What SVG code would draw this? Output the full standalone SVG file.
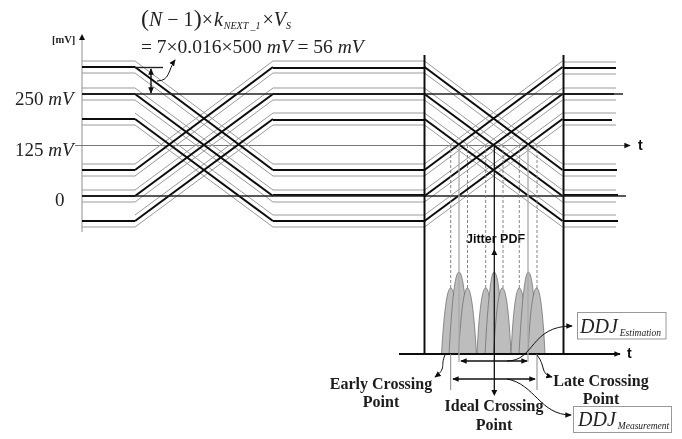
<svg xmlns="http://www.w3.org/2000/svg" width="682" height="439" viewBox="0 0 682 439">
<style>
.k{stroke:#111;stroke-width:2;fill:none}
.m{stroke:#222;stroke-width:1.4;fill:none}
.g{stroke:#9a9a9a;stroke-width:1;fill:none}
.d{stroke:#777;stroke-width:.9;stroke-dasharray:3 2;fill:none}
.v{stroke:#aaa;stroke-width:1.3;fill:none}
.a{stroke:#111;stroke-width:1.4;fill:none}
.c{stroke:#111;stroke-width:1;fill:none}
.s{font-family:"Liberation Serif",serif;fill:#222}
.i{font-style:italic}
.b{font-family:"Liberation Serif",serif;font-weight:bold;font-size:16px;fill:#1a1a1a;text-anchor:middle}
.h{font-family:"Liberation Sans",sans-serif;font-weight:bold;fill:#111}
.p{fill:#bdbdbd;stroke:#666;stroke-width:.7}
.box{fill:#fff;stroke:#999;stroke-width:1}
</style>
<defs>
<filter id="soft" x="0" y="0" width="100%" height="100%"><feGaussianBlur stdDeviation="0.35"/></filter>
<marker id="ah" viewBox="0 0 8 8" refX="7" refY="4" markerWidth="6.500" markerHeight="6.500" orient="auto-start-reverse" markerUnits="userSpaceOnUse"><path d="M0 0.5L8 4L0 7.5Z" fill="#111"/></marker>
<g id="eye">
<path class="g" d="M135 61L273 164M135 73L273 176M135 88L273 190M135 100L273 202M135 113L273 215M135 125L273 227M135 164L273 61M135 176L273 73M135 190L273 88M135 202L273 100M135 215L273 113M135 227L273 125"/>
<path class="k" d="M135 67L273 170M135 94L273 196M135 119L273 221M135 170L273 67M135 196L273 94M135 221L273 119"/>
</g>
</defs>
<g filter="url(#soft)">
<g id="axes">
<path class="v" d="M82 232V40"/>
<path d="M82 34L85 40H79Z" fill="#111"/>
<text class="s" x="52" y="43" font-size="10.500" font-weight="bold">[mV]</text>
<path d="M75 145.500H630" stroke="#777" stroke-width="1" fill="none" marker-end="url(#ah)"/>
<text class="h" x="638" y="150" font-size="14">t</text>
</g>
<g id="waveforms">
<path class="g" d="M82 61H135M82 73H135M82 88H135M82 100H135M82 125H135M82 164H135M82 176H135M82 190H135M82 202H135M82 227H135"/>
<path class="g" d="M273 61H424M273 73H424M273 88H424M273 100H424M273 113H424M273 125H424M273 164H424M273 176H424M273 190H424M273 202H424M273 215H424M273 227H424"/>
<path class="g" d="M563 62H616M563 74H616M563 88H616M563 100H616M563 113H616M563 125H616M563 164H616M563 176H616M563 190H616M563 202H616M563 215H616M563 227H616"/>
<use href="#eye"/>
<use href="#eye" transform="translate(289.500 0)"/>
<path class="k" d="M82 67H135M82 94H135M82 119H135M82 170H135M82 196H135M82 221H135"/>
<path class="k" d="M273 68H424M273 94H424M273 120H424M273 170H424M273 195H424M273 221H424"/>
<path class="k" d="M563 68H616M563 94H614M563 120H612M563 170H617M563 195H618M563 221H618"/>
<path class="m" d="M82 94H623M82 196H626"/>
<path class="k" d="M424.500 55V354M563.500 55V354"/>
</g>
<g id="jitter-pdf">
<path class="p" d="M441.500 354C444 312 447 288 450.700 288C454.500 288 457 312 460 354Z"/>
<path class="p" d="M449 354C452 300 455 272 459 272C463 272 466 300 469 354Z"/>
<path class="p" d="M458.500 354C461 312 464 288 467.300 288C471 288 474 312 476.500 354Z"/>
<path class="p" d="M477 354C479 312 482 288 485.700 288C489.500 288 492 312 495 354Z"/>
<path class="p" d="M485 354C488 300 491 272 494 272C498 272 501 300 503 354Z"/>
<path class="p" d="M493.500 354C496 312 499 288 502.300 288C506 288 509 312 511 354Z"/>
<path class="p" d="M511 354C513 312 516 288 519.300 288C523 288 526 312 528 354Z"/>
<path class="p" d="M519 354C522 300 525 272 528.300 272C532 272 535 300 537 354Z"/>
<path class="p" d="M528 354C530 312 533 288 536.700 288C540 288 543 312 545 354Z"/>
<text class="h" x="466" y="243" font-size="12.500">Jitter PDF</text>
<path d="M399 354H620" stroke="#111" stroke-width="2" fill="none" marker-end="url(#ah)"/>
<text class="h" x="627" y="358" font-size="14">t</text>
</g>
<g id="crossing-guides">
<path class="d" d="M450.700 145V290M467.500 145V290M485.700 145V290M503 145V290M519.300 145V290M537 145V290"/>
<path class="v" d="M459 145V362M528 145V362"/>
<path d="M450.700 354V390M537 354V390" stroke="#888" stroke-width="1" fill="none"/>
<path d="M494.300 145V394" stroke="#111" stroke-width="1.300" fill="none"/>
<path d="M494.300 249L497.300 255H491.300ZM494.300 396L491.300 390H497.300Z" fill="#111"/>
</g>
<g id="connectors">
<path class="m" d="M135 67.500H163"/>
<path class="a" d="M151 69V93" marker-start="url(#ah)" marker-end="url(#ah)"/>
<path class="c" d="M157 81C170 81 168 70 175 60" marker-end="url(#ah)"/>
<path class="a" d="M461 361H527" marker-start="url(#ah)" marker-end="url(#ah)"/>
<path class="a" d="M453 379H535" marker-start="url(#ah)" marker-end="url(#ah)"/>
<path class="c" d="M507 361C535 361 530 326 572 326" marker-end="url(#ah)"/>
<path class="c" d="M507 379C535 384 540 415 571 415" marker-end="url(#ah)"/>
<path class="c" d="M445 355C440 366 447 368 435 377" marker-end="url(#ah)"/>
<path class="c" d="M537 355C546 366 540 374 552 377" marker-end="url(#ah)"/>
</g>
<g id="formula">
<text class="s" x="141" y="26" font-size="20"><tspan font-size="24">(</tspan><tspan class="i">N</tspan> − 1<tspan font-size="24">)</tspan>×<tspan class="i" dx="1">k</tspan><tspan class="i" font-size="10" dy="3" dx="1">NEXT _1</tspan><tspan dy="-3" dx="2">×</tspan><tspan class="i">V</tspan><tspan class="i" font-size="10" dy="3">S</tspan></text>
<text class="s" x="141" y="53" font-size="19.500">= 7×0.016×500 <tspan class="i">mV</tspan> = 56 <tspan class="i">mV</tspan></text>
</g>
<g id="y-labels">
<text class="s" x="15" y="105" font-size="19">250 <tspan class="i">mV</tspan></text>
<text class="s" x="15" y="156" font-size="19">125 <tspan class="i">mV</tspan></text>
<text class="s" x="55" y="206" font-size="19">0</text>
</g>
<g id="early"><text class="b"><tspan x="381" y="389">Early Crossing</tspan><tspan x="381" y="407">Point</tspan></text></g>
<g id="late"><text class="b"><tspan x="601" y="386">Late Crossing</tspan><tspan x="601" y="404">Point</tspan></text></g>
<g id="ideal"><text class="b"><tspan x="494" y="411">Ideal Crossing</tspan><tspan x="494" y="430">Point</tspan></text></g>
<g id="ddj-estimation"><rect class="box" x="577.500" y="312.500" width="88.500" height="26.500"/><text class="s i" x="580" y="333" font-size="20">DDJ<tspan font-size="9.500" dx="2" dy="3">Estimation</tspan></text></g>
<g id="ddj-measurement"><rect class="box" x="573.500" y="406.500" width="98" height="26"/><text class="s i" x="578" y="426" font-size="20">DDJ<tspan font-size="9.500" dx="2" dy="3">Measurement</tspan></text></g>
</g>
</svg>
